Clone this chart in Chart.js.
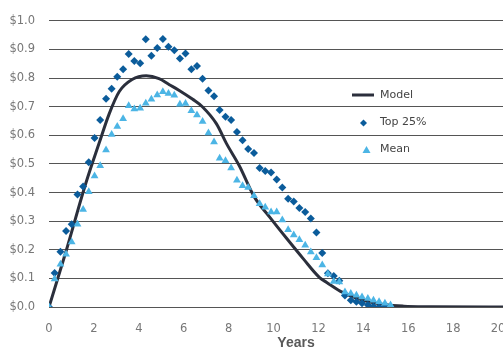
<!DOCTYPE html>
<html>
<head>
<meta charset="utf-8">
<script src="https://cdn.jsdelivr.net/npm/chart.js@4.4.1/dist/chart.umd.min.js"></script>
<style>
  html, body { margin: 0; padding: 0; background: #fff; overflow: hidden; }
  #wrap { width: 503px; height: 354px; overflow: hidden; }
</style>
</head>
<body>
<div id="wrap"><canvas id="lifecycle" width="560" height="354"></canvas></div>
<script>
// observation dates, in years
var years = [0, 0.25, 0.51, 0.76, 1.01, 1.27, 1.52, 1.77, 2.03, 2.28,
  2.54, 2.79, 3.04, 3.3, 3.55, 3.8, 4.06, 4.31, 4.56, 4.82,
  5.07, 5.32, 5.58, 5.83, 6.08, 6.34, 6.59, 6.84, 7.1, 7.35,
  7.6, 7.86, 8.11, 8.37, 8.62, 8.87, 9.13, 9.38, 9.63, 9.89,
  10.14, 10.39, 10.65, 10.9, 11.15, 11.41, 11.66, 11.91, 12.17, 12.42,
  12.68, 12.93, 13.18, 13.44, 13.69, 13.94, 14.2, 14.45, 14.7, 14.96, 15.21];

var top25 = [0, 0.119, 0.193, 0.266, 0.289, 0.393, 0.421, 0.506, 0.591, 0.654,
  0.728, 0.763, 0.805, 0.831, 0.884, 0.86, 0.852, 0.936, 0.878, 0.905,
  0.937, 0.91, 0.897, 0.869, 0.886, 0.831, 0.842, 0.798, 0.757, 0.737,
  0.689, 0.665, 0.654, 0.612, 0.583, 0.552, 0.538, 0.486, 0.475, 0.47,
  0.446, 0.418, 0.378, 0.369, 0.346, 0.332, 0.309, 0.26, 0.189, 0.118,
  0.108, 0.092, 0.04, 0.024, 0.018, 0.013, 0.007, 0.002, 0, 0, 0];

var mean = [0, 0.098, 0.149, 0.184, 0.227, 0.289, 0.341, 0.403, 0.458, 0.494,
  0.549, 0.603, 0.631, 0.658, 0.703, 0.692, 0.695, 0.712, 0.726, 0.741,
  0.752, 0.746, 0.74, 0.709, 0.711, 0.686, 0.671, 0.648, 0.608, 0.577,
  0.52, 0.511, 0.486, 0.443, 0.424, 0.418, 0.389, 0.361, 0.349, 0.332,
  0.332, 0.304, 0.27, 0.252, 0.235, 0.216, 0.192, 0.172, 0.147, 0.115,
  0.089, 0.087, 0.052, 0.047, 0.041, 0.035, 0.03, 0.024, 0.018, 0.013, 0.007];

// fitted model curve
var modelYears = [0, 0.76, 1.65, 2.23, 2.68, 3.13, 3.7, 4.33, 4.9, 5.36,
  5.8, 6.4, 6.83, 7.46, 7.9, 8.48, 9.15, 9.82, 10.57, 11.31,
  12.05, 12.37, 13.08, 14.3, 15.8, 17, 20, 22];
var modelValues = [0, 0.195, 0.435, 0.572, 0.675, 0.753, 0.795, 0.808, 0.798, 0.777,
  0.757, 0.726, 0.7, 0.64, 0.572, 0.493, 0.384, 0.315, 0.241, 0.17,
  0.103, 0.086, 0.051, 0.017, 0.003, 0.001, 0, 0];

var xTicks = [0, 2, 4, 6, 8, 10, 12, 14, 16, 18, 20, 22];
var yTicks = [0, 0.1, 0.2, 0.3, 0.4, 0.5, 0.6, 0.7, 0.8, 0.9, 1.0];

var colModel = '#2b2f3c';
var colTop = '#0b5c9b';
var colMean = '#4cb5e5';

function toPoints(xs, ys) {
  return xs.map(function (x, i) { return { x: x, y: ys[i] }; });
}

// legend sits inside the plot, to the right of the curves
var legendBox = {
  id: 'legendBox',
  afterDraw: function (chart) {
    var ctx = chart.ctx;
    ctx.save();
    ctx.font = '11px "DejaVu Sans"';
    ctx.fillStyle = '#444';
    ctx.textBaseline = 'middle';
    ctx.textAlign = 'left';

    ctx.strokeStyle = colModel;
    ctx.lineWidth = 3;
    ctx.beginPath();
    ctx.moveTo(352, 95);
    ctx.lineTo(374, 95);
    ctx.stroke();
    ctx.fillText('Model', 380, 95);

    ctx.fillStyle = colTop;
    ctx.beginPath();
    ctx.moveTo(363.5, 119.5);
    ctx.lineTo(367, 123);
    ctx.lineTo(363.5, 126.5);
    ctx.lineTo(360, 123);
    ctx.closePath();
    ctx.fill();
    ctx.fillStyle = '#444';
    ctx.fillText('Top 25%', 380, 122);

    ctx.fillStyle = colMean;
    ctx.beginPath();
    ctx.moveTo(366.5, 146);
    ctx.lineTo(370.5, 153);
    ctx.lineTo(362.5, 153);
    ctx.closePath();
    ctx.fill();
    ctx.fillStyle = '#444';
    ctx.fillText('Mean', 380, 149);
    ctx.restore();
  }
};

new Chart('lifecycle', {
  type: 'scatter',
  data: {
    datasets: [
      {
        label: 'Model',
        data: toPoints(modelYears, modelValues),
        showLine: true,
        borderColor: colModel,
        borderWidth: 3,
        pointRadius: 0,
        cubicInterpolationMode: 'monotone',
        order: 3
      },
      {
        label: 'Top 25%',
        data: toPoints(years, top25),
        pointStyle: 'rectRot',
        pointRadius: 4,
        borderWidth: 0,
        backgroundColor: colTop,
        order: 2
      },
      {
        label: 'Mean',
        data: toPoints(years, mean),
        pointStyle: 'triangle',
        pointRadius: 4.5,
        borderWidth: 0,
        backgroundColor: colMean,
        order: 1
      }
    ]
  },
  options: {
    responsive: false,
    animation: false,
    devicePixelRatio: 1,
    layout: { padding: { top: 15, right: 17, bottom: 0, left: 0 } },
    plugins: {
      legend: { display: false },
      tooltip: { enabled: false }
    },
    scales: {
      x: {
        type: 'linear',
        min: 0,
        max: 22,
        afterBuildTicks: function (scale) {
          scale.ticks = xTicks.map(function (v) { return { value: v }; });
        },
        afterFit: function (scale) { scale.height = 47; },
        grid: { display: false },
        border: { display: false },
        ticks: {
          padding: 7,
          color: '#777',
          font: { family: 'DejaVu Sans', size: 11.5 },
          maxRotation: 0
        },
        title: {
          display: true,
          text: 'Years',
          color: '#595959',
          font: { family: 'Liberation Sans', size: 14, weight: 'bold' },
          padding: { top: 0, bottom: 2 }
        }
      },
      y: {
        min: 0,
        max: 1,
        afterBuildTicks: function (scale) {
          scale.ticks = yTicks.map(function (v) { return { value: v }; });
        },
        afterFit: function (scale) { scale.width = 49; },
        grid: { color: '#555', lineWidth: 1, drawTicks: false },
        border: { display: false },
        ticks: {
          padding: 14,
          color: '#777',
          font: { family: 'DejaVu Sans', size: 11.5 },
          callback: function (v) { return '$' + v.toFixed(1); }
        }
      }
    }
  },
  plugins: [legendBox]
});
</script>
</body>
</html>
